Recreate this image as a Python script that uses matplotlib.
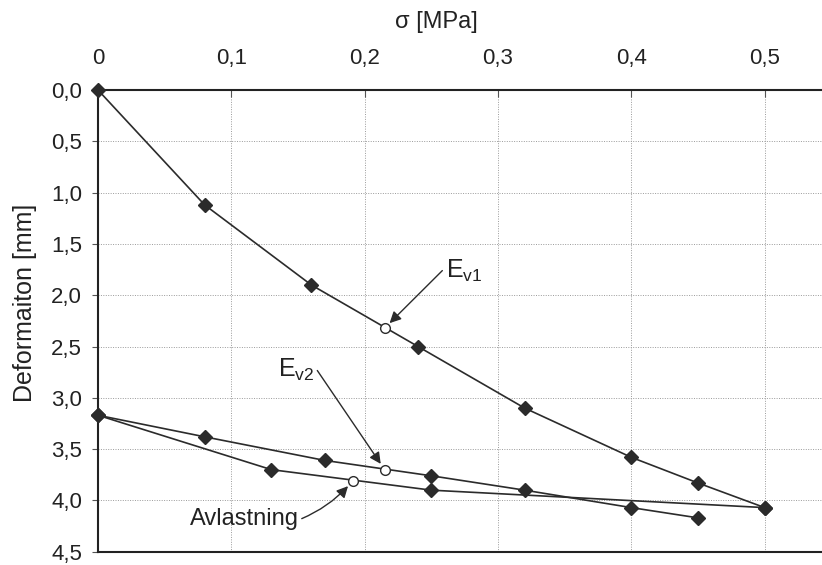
import matplotlib
matplotlib.use("Agg")
import matplotlib.pyplot as plt
from matplotlib.ticker import FuncFormatter

plt.rcParams['font.family'] = ['Liberation Sans', 'DejaVu Sans']
plt.rcParams['mathtext.fontset'] = 'custom'
plt.rcParams['mathtext.rm'] = 'Liberation Sans'
plt.rcParams['mathtext.it'] = 'Liberation Sans'

# first loading
load_x = [0, 0.08, 0.16, 0.24, 0.32, 0.40, 0.45, 0.50]
load_y = [0, 1.12, 1.90, 2.50, 3.10, 3.58, 3.83, 4.07]

# unloading (avlastning)
unload_x = [0.50, 0.25, 0.13, 0]
unload_y = [4.07, 3.90, 3.70, 3.17]

# second loading
reload_x = [0, 0.08, 0.17, 0.25, 0.32, 0.40, 0.45]
reload_y = [3.17, 3.38, 3.61, 3.76, 3.90, 4.07, 4.17]

# points used for the moduli
ev1_pt = (0.215, 2.32)
ev2_pt = (0.215, 3.70)
avl_pt = (0.191, 3.81)

x_ticks = [0, 0.1, 0.2, 0.3, 0.4, 0.5]
y_ticks = [0, 0.5, 1.0, 1.5, 2.0, 2.5, 3.0, 3.5, 4.0, 4.5]

line_col = '#2b2b2b'
text_col = '#222222'

fig = plt.figure(figsize=(8.22, 5.65), dpi=100)
ax = fig.add_axes([0.1192, 0.0235, 0.8808, 0.8172])

for xs, ys in [(load_x, load_y), (unload_x, unload_y), (reload_x, reload_y)]:
    ax.plot(xs, ys, color=line_col, lw=1.2, marker='D', ms=7,
            mfc=line_col, mec=line_col, zorder=3, clip_on=False)

for px, py in [ev1_pt, ev2_pt, avl_pt]:
    ax.plot(px, py, 'o', ms=7, mfc='white', mec=line_col, mew=1.0, zorder=4)

ax.set_xlim(0, 0.543)
ax.set_ylim(4.5, 0)
ax.set_xticks(x_ticks)
ax.set_yticks(y_ticks)
ax.xaxis.tick_top()
ax.xaxis.set_major_formatter(FuncFormatter(lambda v, p: '0' if v == 0 else f'{v:.1f}'.replace('.', ',')))
ax.yaxis.set_major_formatter(FuncFormatter(lambda v, p: f'{v:.1f}'.replace('.', ',')))
ax.tick_params(axis='x', direction='in', length=5, width=0.8, colors='#555555',
               labelsize=16, labelcolor=text_col, pad=15)
ax.tick_params(axis='y', direction='out', length=4.5, width=0.8, colors='#555555',
               labelsize=16, labelcolor=text_col, pad=7)

ax.grid(True, color='#9a9a9a', linestyle=(0, (1, 1.5)), linewidth=0.7)
ax.set_axisbelow(True)

for s in ['top', 'bottom', 'left']:
    ax.spines[s].set_color(text_col)
    ax.spines[s].set_linewidth(1.5)
ax.spines['right'].set_visible(False)

ax.text(0.467, 1.147, 'σ [MPa]', transform=ax.transAxes, fontsize=17,
        color=text_col, ha='center', va='center')
ax.set_ylabel('Deformaiton [mm]', fontsize=18, color=text_col)
ax.yaxis.set_label_coords(-0.084, 0.539)

arrow = dict(arrowstyle='-|>', color=line_col, lw=1.0, mutation_scale=17, shrinkA=0, shrinkB=5)
ax.annotate(r'$\mathrm{E_{v1}}$', xy=ev1_pt, xytext=(0.261, 1.76), fontsize=18,
            color=text_col, va='center', ha='left',
            arrowprops=dict(arrow, relpos=(-0.1, 0.5)))
ax.annotate(r'$\mathrm{E_{v2}}$', xy=ev2_pt, xytext=(0.135, 2.73), fontsize=18,
            color=text_col, va='center', ha='left',
            arrowprops=dict(arrow, relpos=(1.02, 0.6)))
ax.annotate('Avlastning', xy=avl_pt, xytext=(0.069, 4.18), fontsize=17,
            color=text_col, va='center', ha='left',
            arrowprops=dict(arrow, relpos=(1.02, 0.5), connectionstyle='arc3,rad=0.12'))

fig.savefig('out.png', dpi=100)
